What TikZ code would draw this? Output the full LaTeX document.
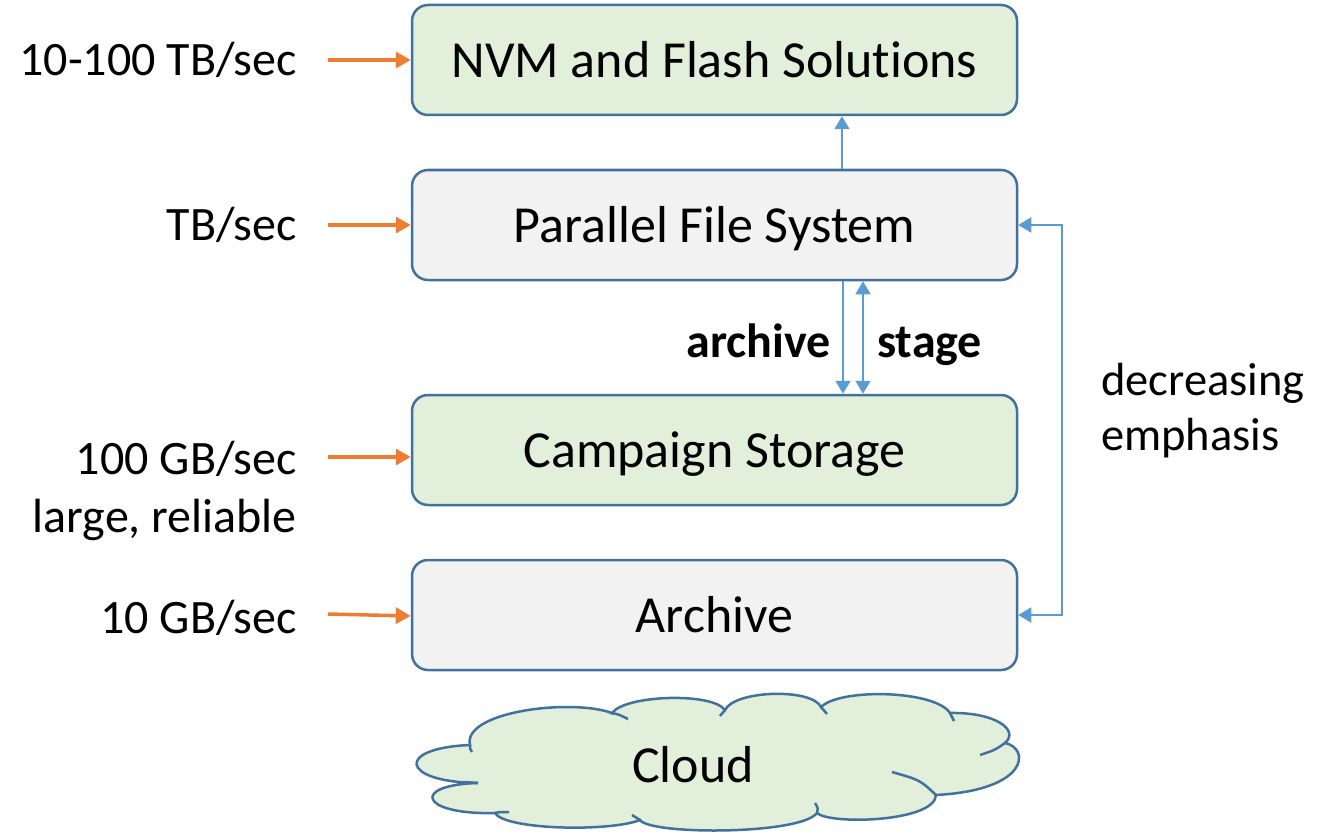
\documentclass[tikz,border=0pt]{standalone}
\usepackage{fontspec}
\setmainfont{Carlito}[Ligatures={NoCommon}]
\usetikzlibrary{arrows.meta}
\definecolor{boxgreen}{HTML}{E2EFDA}
\definecolor{boxgray}{HTML}{F2F2F2}
\definecolor{edge}{HTML}{41719C}
\definecolor{orng}{HTML}{ED7D31}
\definecolor{lblue}{HTML}{5B9BD5}
\tikzset{
  tier/.style={draw=edge, line width=2.5pt, rounded corners=16pt, minimum width=605pt, minimum height=110pt, inner sep=0pt, text height=35pt, text depth=0pt, font=\fontsize{52}{60}\selectfont},
  side/.style={font=\fontsize{48}{56}\selectfont, align=right, anchor=base east, inner sep=0pt},
  inarrow/.style={draw=orng, line width=3.5pt, -{Triangle[length=15pt,width=16pt]}},
  flow/.style={draw=lblue, line width=1.8pt, -{Triangle[length=13pt,width=15pt]}},
  bothflow/.style={draw=lblue, line width=1.8pt, {Triangle[length=13pt,width=15pt]}-{Triangle[length=13pt,width=15pt]}},
  cloudline/.style={draw=edge, line width=2.5pt},
}
\begin{document}
\begin{tikzpicture}[x=1pt,y=-1pt]
\useasboundingbox (0,0) rectangle (1320,840);
\node[tier, fill=boxgreen] (nvm) at (714.5,60) {NVM and Flash Solutions};
\node[tier, fill=boxgray] (pfs) at (714.5,225) {Parallel File System};
\node[tier, fill=boxgreen] (camp) at (714.5,450) {Campaign Storage};
\node[tier, fill=boxgray] (arch) at (714.5,615) {Archive};

% cloud
\path[cloudline, fill=boxgreen] (478,783)
  .. controls (400,782) and (395,748) .. (470,745)
  .. controls (462,712) and (570,698) .. (612,713)
  .. controls (625,695) and (712,692) .. (725,710)
  .. controls (735,690) and (812,688) .. (821,707)
  .. controls (840,688) and (935,690) .. (950,713)
  .. controls (995,712) and (1020,730) .. (1005,743)
  .. controls (1030,748) and (1030,790) .. (936,795)
  .. controls (935,822) and (830,825) .. (817,813)
  .. controls (800,835) and (650,835) .. (640,820)
  .. controls (610,832) and (505,830) .. (495,813)
  .. controls (420,815) and (410,785) .. cycle;
\draw[cloudline] (470,745) .. controls (470,749) .. (472,752);
\draw[cloudline] (610,713) .. controls (618,714) .. (628,719);
\draw[cloudline] (725,710) .. controls (723,713) .. (720,716);
\draw[cloudline] (821,707) .. controls (824,710) .. (827,714);
\draw[cloudline] (950,713) .. controls (952,717) .. (954,721);
\draw[cloudline] (1005,743) .. controls (995,750) .. (980,755);
\draw[cloudline] (936,795) .. controls (920,780) .. (892,772);
\draw[cloudline] (817,813) .. controls (818,808) .. (815,803);
\draw[cloudline] (640,820) .. controls (636,817) .. (632,815);
\draw[cloudline] (495,813) .. controls (500,812) .. (509,812);
\draw[cloudline] (478,783) .. controls (470,782) .. (463,782);
\node[font=\fontsize{52}{60}\selectfont, anchor=base, inner sep=0pt] (cloud) at (693,782) {Cloud};

\node[side] (l1) at (297,76) {10-100 TB/sec};
\node[side] (l2) at (297,240) {TB/sec};
\node[side] (l3) at (297,474) {100 GB/sec};
\node[side] (l3b) at (297,532) {large, reliable};
\node[side] (l4) at (297,633) {10 GB/sec};

\coordinate (s1) at (328,60);
\coordinate (s2) at (328,225);
\coordinate (s3) at (328,457);
\coordinate (s4) at (328,614);
\draw[inarrow] (s1) -- (nvm.west);
\draw[inarrow] (s2) -- (pfs.west);
\draw[inarrow] (s3) -- (camp.west |- s3);
\draw[inarrow] (s4) -- (arch.west |- 0,616);

\draw[flow] (pfs.north -| 842,0) -- (nvm.south -| 842,0);
\draw[flow] (pfs.south -| 843,0) -- (camp.north -| 843,0);
\draw[bothflow] (pfs.south -| 863,0) -- (camp.north -| 863,0);

\node[font=\bfseries\fontsize{48}{56}\selectfont, anchor=base east, inner sep=0pt] (lblarch) at (831,357) {archive};
\node[font=\bfseries\fontsize{48}{56}\selectfont, anchor=base west, inner sep=0pt] (lblstage) at (877,357) {stage};

\coordinate (r1) at (1062,225);
\coordinate (r2) at (1062,615);
\draw[bothflow] (pfs.east) -- (r1) -- (r2) -- (arch.east);

\node[font=\fontsize{46.5}{54}\selectfont, anchor=base west, inner sep=0pt] (dec1) at (1101,395) {decreasing};
\node[font=\fontsize{46.5}{54}\selectfont, anchor=base west, inner sep=0pt] (dec2) at (1101,450) {emphasis};
\end{tikzpicture}
\end{document}
